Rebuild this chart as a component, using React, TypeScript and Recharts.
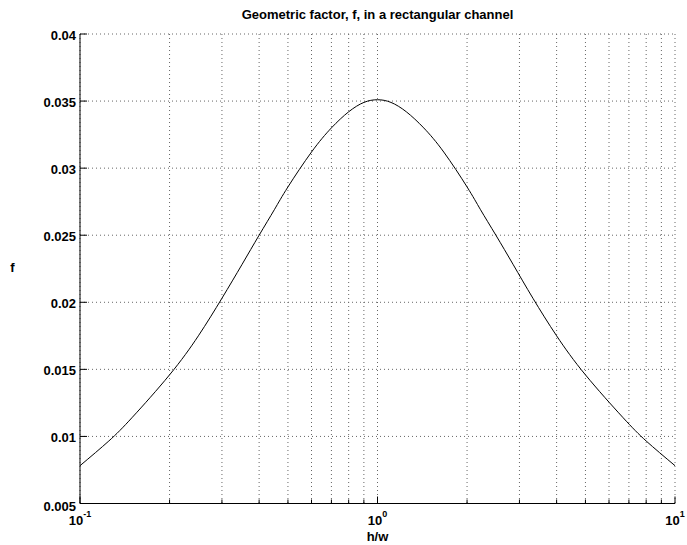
import React from "react";
import { LineChart, Line, XAxis, YAxis, CartesianGrid } from "recharts";

// h/w ratio (log axis) and geometric factor f
const hwValues = [
  0.1, 0.125, 0.15, 0.2, 0.25, 0.3, 0.35, 0.4, 0.45, 0.5, 0.6, 0.7, 0.8, 0.9,
  1, 1.11, 1.25, 1.43, 1.67, 2, 2.22, 2.5, 2.86, 3.33, 4, 5, 6.67, 8, 10,
];
const fValues = [
  0.00782, 0.00966, 0.01143, 0.01459, 0.0175, 0.0203, 0.0228, 0.025, 0.0269,
  0.0286, 0.0312, 0.033, 0.0342, 0.0349, 0.0351, 0.0349, 0.0342, 0.033,
  0.0312, 0.0286, 0.0269, 0.025, 0.0228, 0.0203, 0.0175, 0.01459, 0.01143,
  0.00966, 0.00782,
];

const xTicks = [
  0.1, 0.2, 0.3, 0.4, 0.5, 0.6, 0.7, 0.8, 0.9, 1, 2, 3, 4, 5, 6, 7, 8, 9, 10,
];
const xMajor = [0.1, 1, 10];
const xMajorExp = ["-1", "0", "1"];
const yTicks = [0.005, 0.01, 0.015, 0.02, 0.025, 0.03, 0.035, 0.04];

const FONT = '"Liberation Sans", Arial, Helvetica, sans-serif';

const data = hwValues.map((h, i) => ({ h, f: fValues[i] }));

const BottomTick = (props: any) => {
  const { x, y, payload } = props;
  const idx = xMajor.indexOf(payload.value);
  const major = idx >= 0;
  return (
    <g>
      <line x1={x} y1={y} x2={x} y2={y - (major ? 7 : 4)} stroke="#000" />
      {major && (
        <text
          x={x}
          y={y + 21.5}
          textAnchor="middle"
          fontSize={13}
          fontWeight="bold"
          fontFamily={FONT}
          fill="#000"
        >
          10
          <tspan dy={-8} fontSize={9}>
            {xMajorExp[idx]}
          </tspan>
        </text>
      )}
    </g>
  );
};

const TopTick = (props: any) => {
  const { x, y, payload } = props;
  const major = xMajor.indexOf(payload.value) >= 0;
  return <line x1={x} y1={y} x2={x} y2={y + (major ? 7 : 4)} stroke="#000" />;
};

const LeftTick = (props: any) => {
  const { x, y, payload } = props;
  const shift = payload.value === 0.005 ? 3 : 1;
  return (
    <g>
      <line x1={x} y1={y} x2={x + 7} y2={y} stroke="#000" />
      <text
        x={x - 4}
        y={y + shift}
        dy="0.35em"
        textAnchor="end"
        fontSize={13}
        fontWeight="bold"
        fontFamily={FONT}
        fill="#000"
      >
        {String(payload.value)}
      </text>
    </g>
  );
};

const RightTick = (props: any) => {
  const { x, y } = props;
  return <line x1={x} y1={y} x2={x - 7} y2={y} stroke="#000" />;
};

export default function App() {
  return (
    <div
      style={{
        position: "absolute",
        left: 0,
        top: 0,
        width: 687,
        height: 545,
        background: "#fff",
      }}
    >
      <LineChart
        width={687}
        height={545}
        data={data}
        margin={{ top: 34, right: 12, bottom: 0, left: 0 }}
      >
        <CartesianGrid stroke="#666" strokeDasharray="1 3" />
        <XAxis
          dataKey="h"
          type="number"
          scale="log"
          domain={[0.1, 10]}
          allowDataOverflow
          ticks={xTicks}
          interval={0}
          height={41.5}
          tickSize={0}
          tickMargin={0}
          axisLine={{ stroke: "#000" }}
          tick={<BottomTick />}
        />
        <XAxis
          xAxisId="top"
          orientation="top"
          dataKey="h"
          type="number"
          scale="log"
          domain={[0.1, 10]}
          allowDataOverflow
          ticks={xTicks}
          interval={0}
          height={0}
          tickSize={0}
          tickMargin={0}
          axisLine={{ stroke: "#000" }}
          tick={<TopTick />}
        />
        <YAxis
          type="number"
          domain={[0.005, 0.04]}
          allowDataOverflow
          ticks={yTicks}
          interval={0}
          width={80}
          tickSize={0}
          tickMargin={0}
          axisLine={{ stroke: "#000" }}
          tick={<LeftTick />}
        />
        <YAxis
          yAxisId="right"
          orientation="right"
          type="number"
          domain={[0.005, 0.04]}
          allowDataOverflow
          ticks={yTicks}
          interval={0}
          width={0}
          tickSize={0}
          tickMargin={0}
          axisLine={{ stroke: "#000" }}
          tick={<RightTick />}
        />
        <Line
          type="natural"
          dataKey="f"
          stroke="#000"
          strokeWidth={1}
          dot={false}
          isAnimationActive={false}
        />
      </LineChart>
      <svg
        width={687}
        height={545}
        style={{ position: "absolute", left: 0, top: 0, pointerEvents: "none" }}
      >
        <text
          x={377.5}
          y={19}
          textAnchor="middle"
          fontSize={13}
          fontWeight="bold"
          fontFamily={FONT}
        >
          Geometric factor, f, in a rectangular channel
        </text>
        <text
          x={377.5}
          y={541}
          textAnchor="middle"
          fontSize={13}
          fontWeight="bold"
          fontFamily={FONT}
        >
          h/w
        </text>
        <text
          x={12.5}
          y={271.5}
          textAnchor="middle"
          fontSize={13}
          fontWeight="bold"
          fontFamily={FONT}
        >
          f
        </text>
      </svg>
    </div>
  );
}
